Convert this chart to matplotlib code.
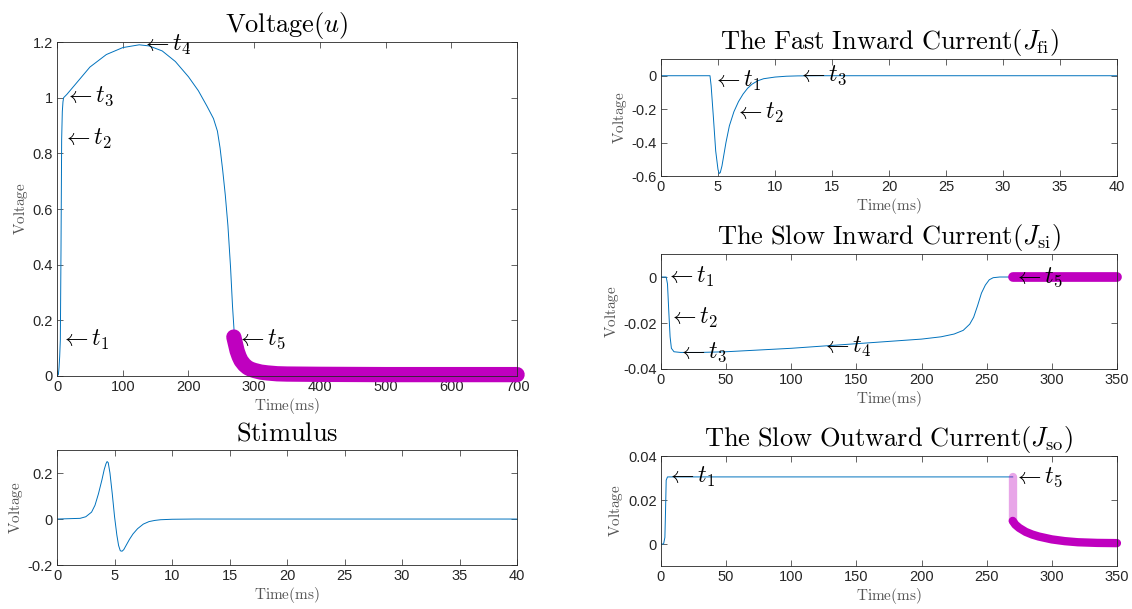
import numpy as np
import matplotlib.pyplot as plt
from matplotlib.ticker import FuncFormatter

plt.rcParams['mathtext.fontset'] = 'cm'
plt.rcParams['font.family'] = 'Liberation Sans'
plt.rcParams['axes.unicode_minus'] = False

BLUE = '#0072BD'
MAG = '#BF00BF'
GRAY = '#262626'

# Voltage u
u_t = [0, 2, 3, 4, 5, 6, 7, 8, 9, 10, 15, 25, 50, 75, 100, 125, 140, 160, 180, 200, 215, 228, 238, 244,
       248, 252, 256, 260, 264, 267, 270]
u_v = [0, 0.005, 0.03, 0.07, 0.13, 0.45, 0.85, 0.95, 0.985, 1.0, 1.012, 1.04, 1.11, 1.155, 1.18, 1.19,
       1.186, 1.168, 1.13, 1.075, 1.025, 0.97, 0.925, 0.88, 0.82, 0.74, 0.65, 0.54, 0.39, 0.25, 0.14]
u_mt = [269, 271, 274, 277, 280, 285, 290, 295, 300, 310, 320, 335, 350, 400, 500, 600, 700]
u_mv = [0.14, 0.12, 0.09, 0.07, 0.055, 0.04, 0.03, 0.024, 0.02, 0.014, 0.011, 0.008, 0.007, 0.006, 0.005,
        0.005, 0.005]

# Stimulus
s_t = [0, 2, 2.5, 3, 3.3, 3.6, 3.9, 4.1, 4.25, 4.35, 4.45, 4.6, 4.8, 5.0, 5.2, 5.35, 5.5, 5.65, 5.8, 6,
       6.3, 6.6, 7, 7.5, 8, 8.5, 9, 10, 12, 40]
s_v = [0, 0.003, 0.01, 0.03, 0.06, 0.11, 0.17, 0.215, 0.24, 0.25, 0.245, 0.2, 0.11, 0.01, -0.07, -0.115,
       -0.138, -0.14, -0.133, -0.115, -0.088, -0.065, -0.042, -0.022, -0.011, -0.006, -0.003, -0.001, 0, 0]

# J_fi
fi_t = [0, 4.3, 4.4, 4.6, 4.8, 5.0, 5.1, 5.2, 5.35, 5.5, 5.7, 6.0, 6.4, 6.8, 7.2, 7.6, 8, 8.5, 9, 10,
        11, 12, 14, 40]
fi_v = [0, 0, -0.06, -0.25, -0.45, -0.56, -0.585, -0.58, -0.54, -0.48, -0.4, -0.3, -0.215, -0.155,
        -0.11, -0.075, -0.05, -0.03, -0.018, -0.008, -0.003, -0.001, 0, 0]

# J_si
si_t = [0, 4, 5, 6, 7, 8, 10, 15, 30, 50, 100, 150, 200, 215, 225, 232, 237, 240, 243, 246, 249, 252,
        255, 260, 270]
si_v = [0, 0, -0.003, -0.015, -0.026, -0.031, -0.0325, -0.0328, -0.0328, -0.0325, -0.031, -0.029,
        -0.027, -0.026, -0.0248, -0.0232, -0.0205, -0.0175, -0.0125, -0.007, -0.0035, -0.0012, -0.0003, 0, 0]
si_mt = [270, 350]
si_mv = [0, 0]

# J_so
so_t = [0, 2, 3, 3.5, 4, 5, 270]
so_v = [0, 0, 0.003, 0.015, 0.029, 0.0305, 0.0305]
so_ft = [270, 270]
so_fv = [0.0305, 0.0105]
so_mt = [270, 272, 275, 280, 285, 290, 300, 310, 320, 335, 350]
so_mv = [0.0105, 0.0088, 0.0073, 0.0055, 0.0043, 0.0034, 0.0021, 0.0013, 0.0008, 0.0005, 0.0004]

fig = plt.figure(figsize=(11.32, 6.09), dpi=100)


def style(ax, xlim, xt, ylim, yt, title):
    ax.set_xlim(xlim)
    ax.set_ylim(ylim)
    ax.set_xticks(xt)
    ax.set_yticks(yt)
    ax.xaxis.set_major_formatter(FuncFormatter(lambda v, p: '%g' % v))
    ax.yaxis.set_major_formatter(FuncFormatter(lambda v, p: '%g' % round(v, 6)))
    ax.tick_params(direction='in', top=True, right=True, length=4, width=0.5,
                   labelsize=10.5, colors=GRAY, pad=3)
    for s in ax.spines.values():
        s.set_color(GRAY)
        s.set_linewidth(0.6)
    ax.set_title(title, fontsize=19, pad=7)
    ax.set_xlabel(r'$\mathrm{Time(ms)}$', fontsize=11, color='#555555', labelpad=1)
    ax.set_ylabel(r'$\mathrm{Voltage}$', fontsize=11, color='#555555', labelpad=2)


def note(ax, x, y, k):
    ax.text(x, y, r'$\leftarrow t_%d$' % k, fontsize=17, ha='left', va='center')


# voltage
ax = fig.add_axes([0.0504, 0.3826, 0.4064, 0.5484])
ax.plot(u_t, u_v, color=BLUE, lw=0.7)
ax.plot(u_mt, u_mv, color=MAG, lw=11, solid_capstyle='round', clip_on=False)
style(ax, (0, 700), range(0, 701, 100), (0, 1.2), np.arange(0, 1.21, 0.2), r'$\mathrm{Voltage}(u)$')
note(ax, 5, 0.13, 1)
note(ax, 7, 0.85, 2)
note(ax, 10, 1.005, 3)
note(ax, 127, 1.19, 4)
note(ax, 272, 0.13, 5)

# stimulus
ax = fig.add_axes([0.0504, 0.0722, 0.4064, 0.1888])
ax.plot(s_t, s_v, color=BLUE, lw=0.7)
style(ax, (0, 40), range(0, 41, 5), (-0.2, 0.3), [-0.2, 0, 0.2], r'$\mathrm{Stimulus}$')

# J_fi
ax = fig.add_axes([0.5839, 0.711, 0.4028, 0.1921])
ax.plot(fi_t, fi_v, color=BLUE, lw=0.7)
style(ax, (0, 40), range(0, 41, 5), (-0.6, 0.1), [-0.6, -0.4, -0.2, 0],
      r'$\mathrm{The\ Fast\ Inward\ Current}(J_{\mathrm{fi}})$')
note(ax, 4.5, -0.03, 1)
note(ax, 6.4, -0.22, 2)
note(ax, 11.9, 0.0, 3)

# J_si
ax = fig.add_axes([0.5839, 0.3941, 0.4028, 0.1888])
ax.plot(si_t, si_v, color=BLUE, lw=0.7)
ax.plot(si_mt, si_mv, color=MAG, lw=7, solid_capstyle='round', clip_on=False)
style(ax, (0, 350), range(0, 351, 50), (-0.04, 0.01), [-0.04, -0.02, 0],
      r'$\mathrm{The\ Slow\ Inward\ Current}(J_{\mathrm{si}})$')
note(ax, 3, 0.0, 1)
note(ax, 5.4, -0.0178, 2)
note(ax, 12, -0.0326, 3)
note(ax, 123, -0.0304, 4)
note(ax, 270, 0.0, 5)

# J_so
ax = fig.add_axes([0.5839, 0.0706, 0.4028, 0.1806])
ax.plot(so_t, so_v, color=BLUE, lw=0.7)
ax.plot(so_ft, so_fv, color=MAG, lw=6, alpha=0.35, solid_capstyle='round')
ax.plot(so_mt, so_mv, color=MAG, lw=6, solid_capstyle='round', clip_on=False)
style(ax, (0, 350), range(0, 351, 50), (-0.01, 0.04), [0, 0.02, 0.04],
      r'$\mathrm{The\ Slow\ Outward\ Current}(J_{\mathrm{so}})$')
note(ax, 3.8, 0.0305, 1)
note(ax, 270, 0.0305, 5)

fig.savefig('out.png', dpi=100)
